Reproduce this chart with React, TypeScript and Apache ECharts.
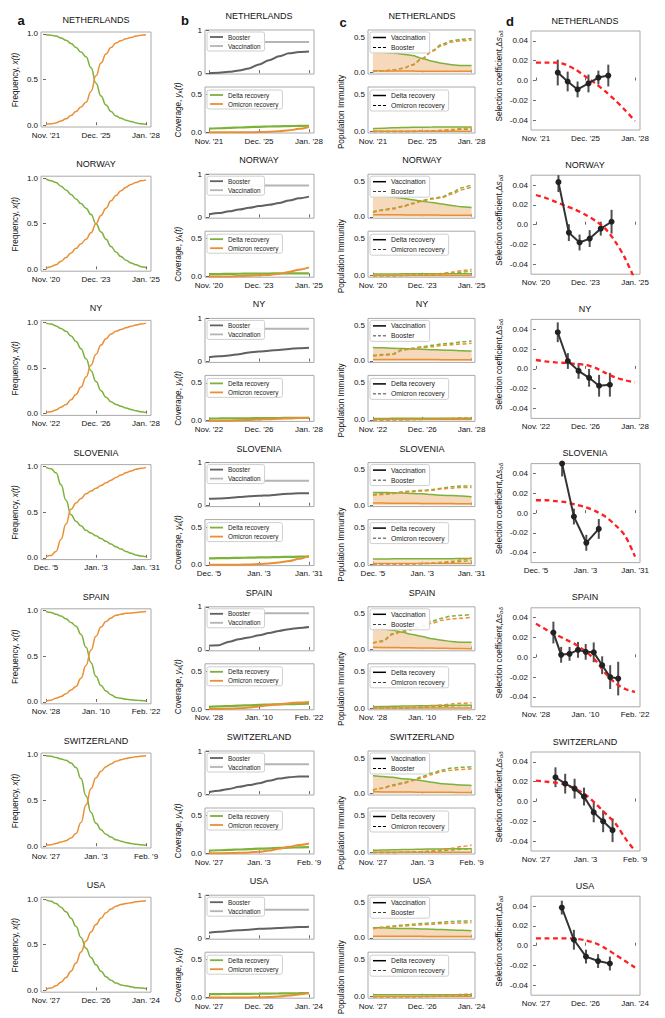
import React, { useEffect, useRef } from "react";
import * as echarts from "echarts";

const FONT = '"Liberation Sans", Arial, Helvetica, sans-serif';
const GREEN = "#7cb13a";
const ORANGE = "#e98f34";
const PEACH = "#f6d9bb";
const RED = "#ff1f1f";
const DARK = "#333333";

const countries = ["NETHERLANDS", "NORWAY", "NY", "SLOVENIA", "SPAIN", "SWITZERLAND", "USA"];
const dateLabels = [
  ["Nov. '21", "Dec. '25", "Jan. '28"],
  ["Nov. '20", "Dec. '23", "Jan. '25"],
  ["Nov. '22", "Dec. '26", "Jan. '28"],
  ["Dec. '5", "Jan. '3", "Jan. '31"],
  ["Nov. '28", "Jan. '10", "Feb. '22"],
  ["Nov. '27", "Jan. '3", "Feb. '9"],
  ["Nov. '27", "Dec. '26", "Jan. '24"],
];
const tickPos = [0, 0.5, 1];
const tGrid = [0, 0.1, 0.2, 0.3, 0.4, 0.5, 0.6, 0.7, 0.8, 0.9, 1];
const tFine = [0, 0.05, 0.1, 0.15, 0.2, 0.25, 0.3, 0.35, 0.4, 0.45, 0.5, 0.55, 0.6, 0.65, 0.7, 0.75, 0.8, 0.85, 0.9, 0.95, 1];

// panel a: variant frequencies (sampled on tFine)
const freqDelta = [
  [0.99, 0.985, 0.975, 0.955, 0.93, 0.895, 0.85, 0.8, 0.75, 0.63, 0.46, 0.32, 0.22, 0.15, 0.1, 0.075, 0.055, 0.04, 0.025, 0.015, 0.01],
  [0.99, 0.97, 0.95, 0.91, 0.87, 0.82, 0.77, 0.72, 0.67, 0.6, 0.5, 0.41, 0.33, 0.25, 0.19, 0.14, 0.1, 0.07, 0.05, 0.03, 0.02],
  [0.99, 0.98, 0.96, 0.93, 0.9, 0.85, 0.79, 0.71, 0.6, 0.47, 0.35, 0.25, 0.18, 0.13, 0.1, 0.08, 0.06, 0.045, 0.03, 0.02, 0.01],
  [0.99, 0.975, 0.93, 0.8, 0.63, 0.47, 0.4, 0.35, 0.3, 0.27, 0.24, 0.21, 0.18, 0.15, 0.12, 0.095, 0.07, 0.05, 0.03, 0.02, 0.01],
  [0.99, 0.98, 0.96, 0.94, 0.91, 0.87, 0.83, 0.74, 0.6, 0.43, 0.28, 0.18, 0.12, 0.08, 0.05, 0.04, 0.03, 0.025, 0.02, 0.015, 0.01],
  [0.99, 0.985, 0.97, 0.955, 0.94, 0.91, 0.86, 0.74, 0.55, 0.37, 0.25, 0.18, 0.13, 0.1, 0.07, 0.055, 0.04, 0.03, 0.02, 0.015, 0.01],
  [0.99, 0.975, 0.95, 0.91, 0.86, 0.79, 0.7, 0.58, 0.46, 0.36, 0.28, 0.21, 0.15, 0.11, 0.08, 0.06, 0.05, 0.04, 0.03, 0.025, 0.02],
];
const freqOmicron = [
  [0.01, 0.015, 0.025, 0.045, 0.07, 0.105, 0.15, 0.2, 0.25, 0.37, 0.54, 0.68, 0.78, 0.85, 0.9, 0.925, 0.945, 0.96, 0.975, 0.985, 0.99],
  [0.01, 0.03, 0.05, 0.09, 0.13, 0.18, 0.23, 0.28, 0.33, 0.4, 0.5, 0.59, 0.67, 0.75, 0.81, 0.86, 0.9, 0.93, 0.95, 0.97, 0.98],
  [0.01, 0.02, 0.04, 0.07, 0.1, 0.15, 0.21, 0.29, 0.4, 0.53, 0.65, 0.75, 0.82, 0.87, 0.9, 0.92, 0.94, 0.955, 0.97, 0.98, 0.99],
  [0.01, 0.025, 0.07, 0.2, 0.37, 0.53, 0.6, 0.65, 0.7, 0.73, 0.76, 0.79, 0.82, 0.85, 0.88, 0.905, 0.93, 0.95, 0.97, 0.98, 0.99],
  [0.01, 0.02, 0.04, 0.06, 0.09, 0.13, 0.17, 0.26, 0.4, 0.57, 0.72, 0.82, 0.88, 0.92, 0.95, 0.96, 0.97, 0.975, 0.98, 0.985, 0.99],
  [0.01, 0.015, 0.03, 0.045, 0.06, 0.09, 0.14, 0.26, 0.45, 0.63, 0.75, 0.82, 0.87, 0.9, 0.93, 0.945, 0.96, 0.97, 0.98, 0.985, 0.99],
  [0.01, 0.025, 0.05, 0.09, 0.14, 0.21, 0.3, 0.42, 0.54, 0.64, 0.72, 0.79, 0.85, 0.89, 0.92, 0.94, 0.95, 0.96, 0.97, 0.975, 0.98],
];

// panel b: coverage
const boosterCov = [
  [0, 0.01, 0.03, 0.06, 0.11, 0.2, 0.3, 0.39, 0.46, 0.49, 0.5],
  [0.07, 0.1, 0.14, 0.18, 0.22, 0.26, 0.29, 0.33, 0.39, 0.44, 0.48],
  [0.1, 0.12, 0.14, 0.17, 0.21, 0.23, 0.25, 0.27, 0.29, 0.31, 0.32],
  [0.16, 0.17, 0.18, 0.2, 0.22, 0.23, 0.24, 0.26, 0.28, 0.29, 0.29],
  [0.1, 0.11, 0.19, 0.25, 0.29, 0.34, 0.39, 0.44, 0.48, 0.51, 0.53],
  [0.05, 0.08, 0.12, 0.17, 0.21, 0.25, 0.31, 0.36, 0.39, 0.41, 0.41],
  [0.13, 0.15, 0.17, 0.19, 0.2, 0.22, 0.23, 0.24, 0.25, 0.26, 0.27],
];
const vaccCov = [
  [0.71, 0.71, 0.72, 0.72, 0.72, 0.72, 0.72, 0.72, 0.72, 0.72, 0.72],
  [0.73, 0.73, 0.74, 0.74, 0.74, 0.74, 0.74, 0.74, 0.74, 0.74, 0.74],
  [0.75, 0.75, 0.75, 0.76, 0.76, 0.76, 0.76, 0.76, 0.76, 0.76, 0.76],
  [0.57, 0.57, 0.58, 0.58, 0.58, 0.58, 0.58, 0.58, 0.58, 0.58, 0.58],
  [0.84, 0.84, 0.84, 0.85, 0.85, 0.85, 0.85, 0.85, 0.85, 0.85, 0.85],
  [0.68, 0.68, 0.69, 0.69, 0.69, 0.69, 0.69, 0.69, 0.69, 0.69, 0.69],
  [0.65, 0.65, 0.65, 0.66, 0.66, 0.66, 0.66, 0.66, 0.66, 0.66, 0.66],
];
const deltaRecCov = [
  [0.048, 0.053, 0.058, 0.063, 0.068, 0.072, 0.076, 0.079, 0.082, 0.084, 0.086],
  [0.03, 0.032, 0.034, 0.036, 0.037, 0.038, 0.039, 0.04, 0.04, 0.04, 0.04],
  [0.028, 0.029, 0.03, 0.031, 0.032, 0.033, 0.034, 0.035, 0.036, 0.037, 0.038],
  [0.085, 0.088, 0.09, 0.093, 0.095, 0.098, 0.1, 0.103, 0.106, 0.108, 0.11],
  [0.03, 0.035, 0.04, 0.045, 0.05, 0.055, 0.06, 0.063, 0.065, 0.068, 0.07],
  [0.035, 0.04, 0.045, 0.05, 0.055, 0.06, 0.065, 0.07, 0.075, 0.078, 0.08],
  [0.044, 0.045, 0.046, 0.047, 0.048, 0.05, 0.051, 0.053, 0.054, 0.056, 0.057],
];
const omiRecCov = [
  [0, 0, 0, 0, 0.001, 0.002, 0.005, 0.012, 0.025, 0.045, 0.07],
  [0, 0, 0, 0.005, 0.01, 0.015, 0.02, 0.035, 0.06, 0.09, 0.12],
  [0, 0, 0, 0.005, 0.01, 0.015, 0.02, 0.025, 0.03, 0.035, 0.04],
  [0, 0, 0, 0.002, 0.005, 0.01, 0.018, 0.03, 0.05, 0.08, 0.12],
  [0, 0, 0.005, 0.01, 0.02, 0.035, 0.05, 0.065, 0.078, 0.088, 0.095],
  [0, 0, 0.002, 0.005, 0.01, 0.02, 0.035, 0.06, 0.085, 0.11, 0.13],
  [0, 0, 0, 0, 0, 0.002, 0.005, 0.012, 0.025, 0.04, 0.058],
];

// panel c: population immunity (top: vaccination / booster)
const immVaccDelta = [
  [0.29, 0.285, 0.275, 0.26, 0.24, 0.2, 0.16, 0.13, 0.11, 0.1, 0.1],
  [0.31, 0.3, 0.28, 0.26, 0.24, 0.22, 0.2, 0.18, 0.16, 0.14, 0.13],
  [0.19, 0.185, 0.18, 0.175, 0.17, 0.165, 0.16, 0.155, 0.15, 0.145, 0.14],
  [0.18, 0.18, 0.175, 0.17, 0.165, 0.16, 0.15, 0.14, 0.135, 0.13, 0.12],
  [0.3, 0.29, 0.27, 0.24, 0.21, 0.18, 0.15, 0.13, 0.11, 0.1, 0.1],
  [0.25, 0.24, 0.23, 0.21, 0.2, 0.18, 0.16, 0.14, 0.13, 0.12, 0.115],
  [0.14, 0.14, 0.135, 0.13, 0.13, 0.125, 0.12, 0.115, 0.11, 0.105, 0.1],
];
const immVaccOmi = [
  [0.025, 0.024, 0.023, 0.022, 0.021, 0.02, 0.02, 0.019, 0.019, 0.018, 0.018],
  [0.03, 0.029, 0.028, 0.027, 0.026, 0.025, 0.024, 0.023, 0.022, 0.021, 0.02],
  [0.022, 0.022, 0.021, 0.021, 0.02, 0.02, 0.02, 0.019, 0.019, 0.018, 0.018],
  [0.03, 0.029, 0.028, 0.027, 0.026, 0.025, 0.024, 0.023, 0.022, 0.021, 0.02],
  [0.03, 0.028, 0.026, 0.024, 0.022, 0.02, 0.018, 0.016, 0.014, 0.012, 0.01],
  [0.025, 0.024, 0.023, 0.022, 0.021, 0.02, 0.019, 0.018, 0.017, 0.016, 0.015],
  [0.02, 0.02, 0.02, 0.02, 0.02, 0.02, 0.019, 0.019, 0.019, 0.018, 0.018],
];
const immBoostDelta = [
  [0.02, 0.025, 0.035, 0.06, 0.11, 0.2, 0.31, 0.4, 0.45, 0.47, 0.48],
  [0.07, 0.1, 0.12, 0.15, 0.19, 0.23, 0.26, 0.28, 0.34, 0.41, 0.45],
  [0.08, 0.09, 0.1, 0.16, 0.18, 0.2, 0.22, 0.24, 0.25, 0.27, 0.28],
  [0.15, 0.16, 0.17, 0.19, 0.2, 0.21, 0.22, 0.24, 0.26, 0.27, 0.27],
  [0.09, 0.12, 0.22, 0.26, 0.29, 0.34, 0.4, 0.44, 0.47, 0.48, 0.49],
  [0.05, 0.08, 0.12, 0.15, 0.19, 0.24, 0.29, 0.33, 0.36, 0.37, 0.38],
  [0.14, 0.15, 0.165, 0.18, 0.19, 0.2, 0.21, 0.22, 0.23, 0.235, 0.24],
];
const immBoostOmi = [
  [0.02, 0.025, 0.033, 0.057, 0.105, 0.19, 0.3, 0.38, 0.43, 0.45, 0.46],
  [0.06, 0.09, 0.11, 0.14, 0.18, 0.22, 0.25, 0.27, 0.32, 0.38, 0.42],
  [0.07, 0.08, 0.09, 0.15, 0.17, 0.19, 0.2, 0.22, 0.23, 0.24, 0.25],
  [0.14, 0.15, 0.16, 0.18, 0.19, 0.2, 0.21, 0.23, 0.24, 0.25, 0.25],
  [0.09, 0.11, 0.21, 0.25, 0.28, 0.32, 0.37, 0.41, 0.43, 0.44, 0.45],
  [0.05, 0.075, 0.11, 0.14, 0.18, 0.22, 0.27, 0.31, 0.33, 0.34, 0.35],
  [0.13, 0.14, 0.155, 0.165, 0.175, 0.185, 0.19, 0.2, 0.205, 0.21, 0.215],
];
// panel c bottom: recovery immunity
const immRecDelta = [
  [0.04, 0.045, 0.05, 0.053, 0.056, 0.058, 0.06, 0.061, 0.062, 0.062, 0.062],
  [0.022, 0.023, 0.024, 0.025, 0.026, 0.027, 0.027, 0.028, 0.028, 0.028, 0.028],
  [0.02, 0.02, 0.021, 0.021, 0.022, 0.022, 0.023, 0.023, 0.023, 0.024, 0.024],
  [0.07, 0.07, 0.071, 0.072, 0.072, 0.073, 0.073, 0.074, 0.074, 0.075, 0.075],
  [0.022, 0.024, 0.027, 0.03, 0.032, 0.035, 0.037, 0.039, 0.04, 0.041, 0.042],
  [0.03, 0.033, 0.036, 0.039, 0.042, 0.045, 0.047, 0.049, 0.05, 0.051, 0.052],
  [0.025, 0.025, 0.026, 0.026, 0.026, 0.027, 0.027, 0.027, 0.028, 0.028, 0.028],
];
const immRecDeltaOmi = [
  [0.005, 0.005, 0.005, 0.005, 0.005, 0.005, 0.005, 0.005, 0.005, 0.005, 0.005],
  [0.004, 0.004, 0.004, 0.004, 0.004, 0.004, 0.004, 0.004, 0.004, 0.004, 0.004],
  [0.004, 0.004, 0.004, 0.004, 0.004, 0.004, 0.004, 0.004, 0.004, 0.004, 0.004],
  [0.008, 0.008, 0.008, 0.008, 0.008, 0.008, 0.008, 0.008, 0.008, 0.008, 0.008],
  [0.005, 0.005, 0.005, 0.005, 0.005, 0.005, 0.005, 0.005, 0.005, 0.005, 0.005],
  [0.005, 0.005, 0.005, 0.005, 0.005, 0.005, 0.005, 0.005, 0.005, 0.005, 0.005],
  [0.004, 0.004, 0.004, 0.004, 0.004, 0.004, 0.004, 0.004, 0.004, 0.004, 0.004],
];
const immOmiRecDelta = [
  [0, 0, 0, 0, 0.001, 0.003, 0.006, 0.012, 0.02, 0.03, 0.04],
  [0, 0, 0, 0.003, 0.006, 0.01, 0.014, 0.022, 0.035, 0.048, 0.062],
  [0, 0, 0, 0.002, 0.004, 0.007, 0.01, 0.013, 0.016, 0.019, 0.022],
  [0, 0, 0, 0.001, 0.003, 0.006, 0.01, 0.016, 0.025, 0.037, 0.05],
  [0, 0, 0.002, 0.005, 0.009, 0.014, 0.02, 0.026, 0.032, 0.037, 0.04],
  [0, 0, 0.001, 0.003, 0.006, 0.01, 0.016, 0.025, 0.035, 0.045, 0.055],
  [0, 0, 0, 0, 0, 0.001, 0.003, 0.008, 0.014, 0.02, 0.028],
];
const immOmiRecOmi = [
  [0, 0, 0, 0.001, 0.002, 0.004, 0.008, 0.016, 0.028, 0.042, 0.058],
  [0, 0, 0.001, 0.004, 0.008, 0.012, 0.018, 0.03, 0.048, 0.068, 0.088],
  [0, 0, 0.001, 0.003, 0.006, 0.01, 0.014, 0.018, 0.022, 0.026, 0.03],
  [0, 0, 0, 0.002, 0.004, 0.008, 0.014, 0.024, 0.038, 0.058, 0.085],
  [0, 0, 0.003, 0.007, 0.013, 0.022, 0.033, 0.045, 0.058, 0.068, 0.076],
  [0, 0, 0.001, 0.003, 0.007, 0.013, 0.022, 0.038, 0.058, 0.08, 0.1],
  [0, 0, 0, 0, 0, 0.002, 0.005, 0.012, 0.022, 0.032, 0.042],
];

// panel d: selection coefficient estimates and model
const selX = [
  [0.22, 0.32, 0.42, 0.53, 0.63, 0.73],
  [0.227, 0.332, 0.44, 0.542, 0.654, 0.763],
  [0.22, 0.322, 0.43, 0.536, 0.637, 0.746],
  [0.264, 0.383, 0.508, 0.634],
  [0.176, 0.254, 0.339, 0.424, 0.502, 0.583, 0.668, 0.749, 0.83],
  [0.197, 0.295, 0.39, 0.485, 0.583, 0.678, 0.773],
  [0.261, 0.383, 0.505, 0.627, 0.746],
];
const selY = [
  [0.008, -0.001, -0.009, -0.003, 0.003, 0.005],
  [0.043, -0.008, -0.018, -0.014, -0.004, 0.003],
  [0.037, 0.008, -0.002, -0.009, -0.017, -0.016],
  [0.05, -0.0035, -0.03, -0.016],
  [0.025, 0.0025, 0.0035, 0.0075, 0.0055, 0.005, -0.008, -0.02, -0.0215],
  [0.0245, 0.018, 0.013, 0.005, -0.011, -0.02, -0.029],
  [0.0385, 0.006, -0.011, -0.0155, -0.018],
];
const selErr = [
  [0.013, 0.01, 0.008, 0.009, 0.007, 0.011],
  [0.01, 0.0085, 0.008, 0.0085, 0.007, 0.012],
  [0.01, 0.008, 0.008, 0.009, 0.011, 0.012],
  [0.013, 0.008, 0.008, 0.01],
  [0.011, 0.008, 0.007, 0.008, 0.008, 0.01, 0.009, 0.012, 0.017],
  [0.01, 0.01, 0.01, 0.009, 0.01, 0.011, 0.012],
  [0.007, 0.01, 0.007, 0.007, 0.007],
];
const selModel = [
  [0.018, 0.018, 0.018, 0.016, 0.011, 0.004, -0.003, -0.011, -0.02, -0.03, -0.041],
  [0.03, 0.027, 0.023, 0.019, 0.015, 0.01, 0.004, -0.004, -0.017, -0.034, -0.056],
  [0.009, 0.0075, 0.0065, 0.006, 0.005, 0.004, 0.001, -0.004, -0.0085, -0.0115, -0.0135],
  [0.013, 0.013, 0.012, 0.011, 0.0085, 0.006, 0.002, -0.0035, -0.012, -0.023, -0.044],
  [0.034, 0.028, 0.023, 0.018, 0.013, 0.006, -0.003, -0.016, -0.026, -0.032, -0.035],
  [0.021, 0.02, 0.019, 0.017, 0.0125, 0.007, -0.002, -0.012, -0.022, -0.037, -0.05],
  [0.0075, 0.0075, 0.0075, 0.0075, 0.007, 0.0055, 0.0025, -0.0025, -0.009, -0.0155, -0.022],
];

const LEGEND_TEXT: Record<string, string> = {
  cVac: "Vaccination",
  cBoost: "Booster",
  cDelta: "Delta recovery",
  cOmi: "Omicron recovery",
};
const DASH_ICON = "path://M0,0h4v1h-4z M6.5,0h4v1h-4z M13,0h4v1h-4z";

const PITCH = 144.2;

function pts(xs: number[], ys: number[]) {
  return xs.map((x, i) => [x, ys[i]]);
}

function buildOption() {
  const grid: any[] = [];
  const xAxis: any[] = [];
  const yAxis: any[] = [];
  const series: any[] = [];
  const legend: any[] = [];
  const graphic: any[] = [];

  const addAxes = (
    left: number, top: number, width: number, height: number,
    xMin: number, xMax: number, xLabels: string[] | null,
    yTicks: number[], yMin: number, yMax: number, yFmt: (v: number) => string
  ) => {
    const i = grid.length;
    grid.push({ left, top, width, height, show: true, borderColor: "#a9a9a9", borderWidth: 1, backgroundColor: "transparent" });
    xAxis.push({
      gridIndex: i, type: "value", min: xMin, max: xMax,
      axisLine: { show: false },
      splitLine: { show: false },
      axisTick: { show: true, inside: true, length: 3, customValues: tickPos, lineStyle: { color: "#444", width: 0.8 } },
      axisLabel: {
        show: !!xLabels, customValues: tickPos, margin: 4,
        fontSize: 8, color: "#111", fontFamily: FONT,
        formatter: (v: number) => (xLabels ? xLabels[Math.round(v * 2)] ?? "" : ""),
      },
    });
    yAxis.push({
      gridIndex: i, type: "value", min: yMin, max: yMax,
      axisLine: { show: false },
      splitLine: { show: false },
      axisTick: { show: true, inside: false, length: 3, customValues: yTicks, lineStyle: { color: "#444", width: 0.8 } },
      axisLabel: { customValues: yTicks, margin: 3, fontSize: 8, color: "#111", fontFamily: FONT, formatter: yFmt },
    });
    return i;
  };

  const line = (gi: number, name: string, xs: number[], ys: number[], color: string, width: number, dashed = false, extra: any = {}) => ({
    type: "line", name, xAxisIndex: gi, yAxisIndex: gi, data: pts(xs, ys),
    symbol: "none", smooth: 0.3, smoothMonotone: "x", silent: true,
    lineStyle: { color, width, type: dashed ? [4, 2.5] : "solid" },
    itemStyle: { color },
    ...extra,
  });

  const mkLegend = (left: number, top: number, data: any[], fontSize: number, iconH: number) => ({
    left, top, orient: "vertical", data, selectedMode: false,
    icon: "rect",
    itemWidth: 13, itemHeight: iconH, itemGap: 3,
    padding: [2, 4, 2, 3],
    backgroundColor: "rgba(255,255,255,0.92)",
    borderColor: "#cfcfcf", borderWidth: 1, borderRadius: 2,
    textStyle: { fontSize, color: "#222", fontFamily: FONT },
    formatter: (n: string) => LEGEND_TEXT[n] ?? n,
  });

  const text = (x: number, y: number, t: string, size: number, weight = "normal") => ({
    type: "text", x, y, silent: true,
    style: { text: t, fill: "#111", fontSize: size, fontWeight: weight, fontFamily: FONT, align: "center", verticalAlign: "middle" },
  });
  const vtext = (x: number, y: number, t: string, rich: any) => ({
    type: "text", x, y, rotation: Math.PI / 2, silent: true,
    style: { text: t, rich, fill: "#111", fontSize: 8.2, fontFamily: FONT, align: "center", verticalAlign: "middle" },
  });
  const base = { fontSize: 8.2, fontFamily: FONT, fill: "#111", verticalAlign: "middle", lineHeight: 10 };
  const ital = { ...base, fontStyle: "italic" };
  const sub = { fontSize: 6, fontFamily: FONT, fill: "#111", fontStyle: "italic", verticalAlign: "bottom", lineHeight: 7 };

  const f1 = (v: number) => v.toFixed(1);
  const f0 = (v: number) => String(Math.round(v));
  const fd = (v: number) => (Math.abs(v) < 1e-9 ? "0.0" : v.toFixed(2));

  graphic.push(text(13, 12, "a", 13, "bold"));
  graphic.push(text(177, 12, "b", 13, "bold"));
  graphic.push(text(335, 14, "c", 13, "bold"));
  graphic.push(text(502, 13, "d", 13, "bold"));

  countries.forEach((name, r) => {
    const T = r * PITCH;
    const labels = dateLabels[r];

    // titles
    graphic.push(text(88, T + 12, name, 9));
    graphic.push(text(251, T + 8, name, 9));
    graphic.push(text(414, T + 8, name, 9));
    graphic.push(text(577, T + 12.5, name, 9));

    // y labels
    graphic.push(vtext(7, T + 72, "{n|Frequency, }{i|x(t)}", { n: base, i: ital }));
    graphic.push(vtext(170, T + 102, "{n|Coverage, }{i|y}{s|k}{i|(t)}", { n: base, i: ital, s: sub }));
    graphic.push(vtext(333, T + 104, "{n|Population Immunity}", { n: base }));
    graphic.push(vtext(491, T + 68, "{n|Selection coefficient,Δ}{i|s}{s|οδ}", { n: base, i: ital, s: sub }));

    // panel a
    const ga = addAxes(33, T + 24, 110, 95, -0.05, 1.05, labels, [0, 0.5, 1], -0.02, 1.02, f1);
    series.push(line(ga, "fD" + r, tFine, freqDelta[r], GREEN, 1.5, false, { smooth: 0.5 }));
    series.push(line(ga, "fO" + r, tFine, freqOmicron[r], ORANGE, 1.5, false, { smooth: 0.5 }));

    // panel b top
    const gbt = addAxes(197, T + 22, 109, 44, -0.04, 1.05, null, [0, 1], -0.02, 1, f0);
    series.push(line(gbt, "Vaccination", tGrid, vaccCov[r], "#b4b4b4", 2));
    series.push(line(gbt, "Booster", tGrid, boosterCov[r], "#616161", 2));
    legend.push(mkLegend(199, T + 24, ["Booster", "Vaccination"], 6.4, 1.8));

    // panel b bottom
    const gbb = addAxes(197, T + 79, 109, 46, -0.04, 1.05, labels, [0, 0.5], -0.01, 0.6, f1);
    series.push(line(gbb, "Delta recovery", tGrid, deltaRecCov[r], GREEN, 2.2));
    series.push(line(gbb, "Omicron recovery", tGrid, omiRecCov[r], ORANGE, 2));
    legend.push(mkLegend(199, T + 82, ["Delta recovery", "Omicron recovery"], 6.4, 1.8));

    // panel c top
    const gct = addAxes(360, T + 22, 107, 44, -0.05, 1.035, null, [0, 0.5], -0.02, 0.6, f1);
    series.push(line(gct, "cvD" + r, tGrid, immVaccDelta[r], GREEN, 1.5, false, { areaStyle: { color: PEACH, opacity: 1 } }));
    series.push(line(gct, "cvO" + r, tGrid, immVaccOmi[r], ORANGE, 1.5));
    series.push(line(gct, "cbD" + r, tGrid, immBoostDelta[r], GREEN, 1.5, true));
    series.push(line(gct, "cbO" + r, tGrid, immBoostOmi[r], ORANGE, 1.5, true));
    series.push(line(gct, "cVac", [], [], "#000", 1.3));
    series.push(line(gct, "cBoost", [], [], "#000", 1.3, true));
    legend.push(mkLegend(362, T + 24, [{ name: "cVac", icon: "rect" }, { name: "cBoost", icon: DASH_ICON }], 6.8, 1.5));

    // panel c bottom
    const gcb = addAxes(360, T + 79, 107, 46, -0.05, 1.035, labels, [0, 0.5], -0.02, 0.6, f1);
    series.push(line(gcb, "crD" + r, tGrid, immRecDelta[r], GREEN, 1.5, false, { areaStyle: { color: PEACH, opacity: 0.7 } }));
    series.push(line(gcb, "crO" + r, tGrid, immRecDeltaOmi[r], ORANGE, 1.5));
    series.push(line(gcb, "coD" + r, tGrid, immOmiRecDelta[r], GREEN, 1.5, true));
    series.push(line(gcb, "coO" + r, tGrid, immOmiRecOmi[r], ORANGE, 1.5, true));
    series.push(line(gcb, "cDelta", [], [], "#000", 1.3));
    series.push(line(gcb, "cOmi", [], [], "#000", 1.3, true));
    legend.push(mkLegend(362, T + 82, [{ name: "cDelta", icon: "rect" }, { name: "cOmi", icon: DASH_ICON }], 6.8, 1.5));

    // panel d
    const gd = addAxes(523, T + 23, 109, 99, -0.05, 1.05, labels, [-0.04, -0.02, 0, 0.02, 0.04], -0.05, 0.05, fd);
    series.push({
      type: "line", name: "model" + r, xAxisIndex: gd, yAxisIndex: gd, data: pts(tGrid, selModel[r]),
      symbol: "none", smooth: 0.3, silent: true, clip: true,
      lineStyle: { color: RED, width: 2.3, type: [5, 3.5] }, itemStyle: { color: RED },
    });
    series.push({
      type: "custom", name: "err" + r, xAxisIndex: gd, yAxisIndex: gd, silent: true,
      data: selX[r].map((x, i) => [x, selY[r][i], selErr[r][i]]),
      renderItem: (params: any, api: any) => {
        const x = api.value(0), y = api.value(1), e = api.value(2);
        const p1 = api.coord([x, y - e]);
        const p2 = api.coord([x, y + e]);
        const cs = params.coordSys;
        const clamp = (v: number) => Math.max(cs.y, Math.min(cs.y + cs.height, v));
        return {
          type: "line",
          shape: { x1: p1[0], y1: clamp(p1[1]), x2: p2[0], y2: clamp(p2[1]) },
          style: { stroke: "#3c3c3c", lineWidth: 2, opacity: 0.9 },
        };
      },
    });
    series.push({
      type: "line", name: "est" + r, xAxisIndex: gd, yAxisIndex: gd, data: pts(selX[r], selY[r]),
      symbol: "circle", symbolSize: 6, silent: true, clip: true,
      lineStyle: { color: DARK, width: 2 }, itemStyle: { color: "#222" },
    });
  });

  return { animation: false, backgroundColor: "#fff", grid, xAxis, yAxis, series, legend, graphic, tooltip: { show: false } };
}

export default function App() {
  const ref = useRef<HTMLDivElement>(null);
  useEffect(() => {
    const chart = echarts.init(ref.current!, null, { renderer: "svg", width: 665, height: 1018 });
    chart.setOption(buildOption() as any);
    return () => chart.dispose();
  }, []);
  return (
    <div
      ref={ref}
      style={{ position: "fixed", left: 0, top: 0, width: 665, height: 1018, background: "#fff" }}
    />
  );
}
